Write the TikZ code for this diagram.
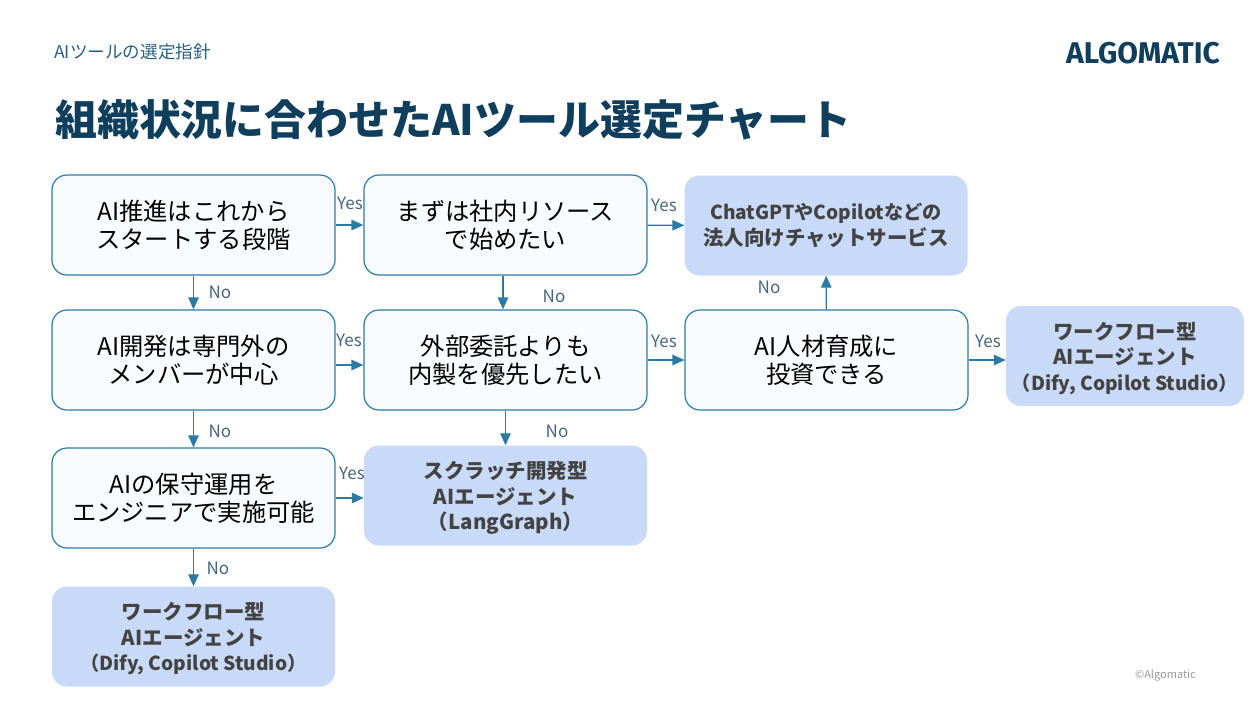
\documentclass[tikz,border=0pt]{standalone}
\usepackage{fontspec}
\setmainfont{Noto Sans CJK JP}
\newfontfamily\logofont{Fira Sans}
\usetikzlibrary{arrows.meta}
\definecolor{linecol}{HTML}{2B7AA6}
\definecolor{titlecol}{HTML}{0F3F5C}
\definecolor{subcol}{HTML}{2A5F80}
\definecolor{askfill}{HTML}{F8FCFF}
\definecolor{toolfill}{HTML}{C9DAF8}
\definecolor{toolcol}{HTML}{434343}
\definecolor{labelcol}{HTML}{44657C}
\newcommand{\toolsmall}{\fontsize{19.2}{25.5}\selectfont}
\newcommand{\toolstrut}{\rule{0pt}{22pt}}
\tikzset{
  askbox/.style={draw=linecol,line width=1.2pt,fill=askfill,rounded corners=15pt,inner sep=0pt,
    minimum width=283pt,minimum height=100pt,align=center,text=black,font=\fontsize{24.3}{28}\selectfont},
  toolbox/.style={fill=toolfill,rounded corners=15pt,inner sep=0pt,
    minimum width=283pt,minimum height=100pt,align=center,text=toolcol,font=\fontsize{20.5}{25.5}\selectfont\bfseries},
  lab/.style={inner sep=0pt,text=labelcol,font=\fontsize{17}{19}\selectfont},
  link/.style={draw=linecol,line width=1.3pt,-{Triangle[length=12pt,width=10.5pt]}}
}
\begin{document}
\begin{tikzpicture}[x=1pt,y=-1pt]
\useasboundingbox (0,0) rectangle (1257,705);
\node [anchor=west,inner sep=0pt,text=subcol,font=\fontsize{17.6}{19}\selectfont] (sub) at (54,52) {AIツールの選定指針};
\node [anchor=west,inner sep=0pt,text=titlecol,font=\fontsize{41.9}{46}\selectfont\bfseries] (title) at (55,120) {組織状況に合わせたAIツール選定チャート};
\node [anchor=east,inner sep=0pt,text=titlecol,font=\logofont\fontsize{30}{34}\selectfont\bfseries] (logo) at (1220,53) {ALGOMATIC};
\node [anchor=east,inner sep=0pt,text=black!40,font=\fontsize{11}{12}\selectfont] (copy) at (1196,675) {©Algomatic};
\node [askbox] (start) at (193.5,225) {AI推進はこれから\\スタートする段階};
\node [askbox] (inhouse) at (505.5,225) {まずは社内リソース\\で始めたい};
\node [toolbox] (chat) at (826,225.5) {{\toolsmall ChatGPTやCopilotなどの}\\法人向けチャットサービス};
\node [askbox] (member) at (193.5,360) {AI開発は専門外の\\メンバーが中心};
\node [askbox] (build) at (505.5,360) {外部委託よりも\\内製を優先したい};
\node [askbox] (invest) at (826.5,360) {AI人材育成に\\投資できる};
\node [toolbox,minimum width=238pt] (flowa) at (1125,356) {\toolstrut ワークフロー型\\AIエージェント\\{\toolsmall （Dify, Copilot Studio）}};
\node [askbox] (ops) at (193.5,498) {AIの保守運用を\\エンジニアで実施可能};
\node [toolbox] (scratch) at (505.5,495.5) {\toolstrut スクラッチ開発型\\AIエージェント\\（LangGraph）};
\node [toolbox] (flowb) at (193.5,636.5) {\toolstrut ワークフロー型\\AIエージェント\\{\toolsmall （Dify, Copilot Studio）}};
\draw [link] (start) -- (inhouse);
\draw [link] (inhouse) -- (chat);
\draw [link] (start) -- (member);
\draw [link] ([xshift=-2.5pt]inhouse.south) -- ([xshift=-2.5pt]build.north);
\draw [link] ([yshift=-5pt]member.east) -- ([yshift=-5pt]build.west);
\draw [link] (build) -- (invest);
\draw [link] (invest) -- (chat);
\draw [link] (invest.east) -- (flowa.west |- invest.east);
\draw [link] (member) -- (ops);
\draw [link] (build) -- (scratch);
\draw [link] (ops.east) -- (scratch.west |- ops.east);
\draw [link] (ops) -- (flowb);
\node [lab] (y1) at (350,203) {Yes};
\node [lab] (y2) at (664,205) {Yes};
\node [lab] (y3) at (349,340) {Yes};
\node [lab] (y4) at (664,341) {Yes};
\node [lab] (y5) at (988,341) {Yes};
\node [lab] (y6) at (352,473) {Yes};
\node [lab] (n1) at (220,292) {No};
\node [lab] (n2) at (554,296) {No};
\node [lab] (n3) at (769,287) {No};
\node [lab] (n4) at (220,431) {No};
\node [lab] (n5) at (557,431) {No};
\node [lab] (n6) at (218,568) {No};
\end{tikzpicture}
\end{document}
